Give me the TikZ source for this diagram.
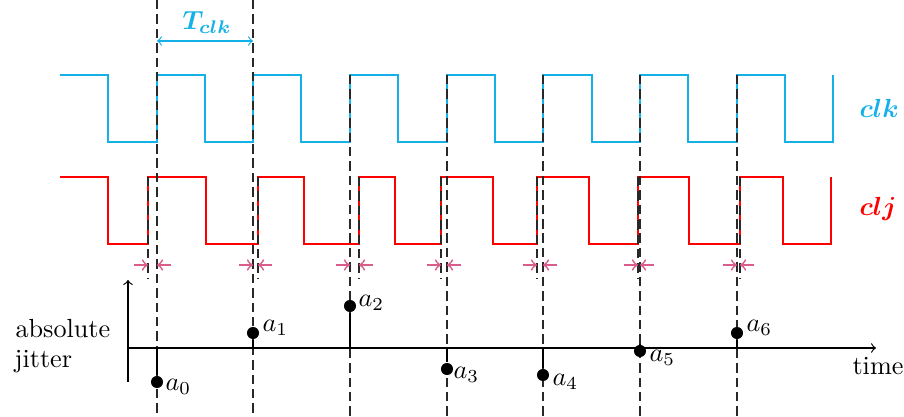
\documentclass[tikz,border=0pt]{standalone}
\usepackage{amsmath,bm}
\definecolor{clkblue}{RGB}{20,176,232}
\definecolor{jitpink}{RGB}{218,92,138}
\definecolor{guidegray}{RGB}{40,40,40}
\tikzset{
  sig/.style={line width=0.8pt, line join=miter},
  clksig/.style={sig, draw=clkblue},
  cljsig/.style={sig, draw=red},
  guide/.style={dash pattern=on 3.6pt off 1.9pt, line width=0.4pt, draw=guidegray},
  jit/.style={->, draw=jitpink, line width=0.65pt},
  dotpt/.style={circle, fill=black, inner sep=0pt, minimum size=4.6pt},
  lab/.style={inner sep=0pt},
  axisline/.style={line width=0.45pt},
}
\begin{document}
\begin{tikzpicture}[x=0.3817pt,y=-0.3817pt]
\useasboundingbox (0,0) rectangle (904,417);
% clock
\draw[clksig] (60,75) -- (108,75) -- (108,142) -- (157,142) -- (157,75)
  -- (205,75) -- (205,142) -- (253,142) -- (253,75)
  -- (301,75) -- (301,142) -- (350,142) -- (350,75)
  -- (398,75) -- (398,142) -- (447,142) -- (447,75)
  -- (495,75) -- (495,142) -- (543,142) -- (543,75)
  -- (592,75) -- (592,142) -- (640,142) -- (640,75)
  -- (688,75) -- (688,142) -- (737,142) -- (737,75)
  -- (785,75) -- (785,142) -- (833,142) -- (833,75);
% jittered clock
\draw[cljsig] (60,177) -- (108,177) -- (108,244) -- (148,244) -- (148,177)
  -- (206,177) -- (206,244) -- (258,244) -- (258,177)
  -- (304,177) -- (304,244) -- (359,244) -- (359,177)
  -- (395,177) -- (395,244) -- (441,244) -- (441,177)
  -- (493,177) -- (493,244) -- (537,244) -- (537,177)
  -- (589,177) -- (589,244) -- (638,244) -- (638,177)
  -- (689,177) -- (689,244) -- (740,244) -- (740,177)
  -- (783,177) -- (783,244) -- (831,244) -- (831,177);
% labels of signals
\node[lab, anchor=base west, text=clkblue] (clklab) at (859,118) {$\boldsymbol{clk}$};
\node[lab, anchor=base west, text=red] (cljlab) at (859,216) {$\boldsymbol{clj}$};
\node[lab, anchor=base west, text=clkblue] (tclk) at (182,30) {$\boldsymbol{T_{clk}}$};
% clock guides
\coordinate (g0t) at (157,0);   \coordinate (g0b) at (157,417);
\coordinate (g1t) at (253,0);   \coordinate (g1b) at (253,417);
\coordinate (g2t) at (350,75);  \coordinate (g2b) at (350,417);
\coordinate (g3t) at (447,75);  \coordinate (g3b) at (447,417);
\coordinate (g4t) at (543,75);  \coordinate (g4b) at (543,417);
\coordinate (g5t) at (640,75);  \coordinate (g5b) at (640,417);
\coordinate (g6t) at (737,75);  \coordinate (g6b) at (737,417);
\foreach \i in {0,...,6} \draw[guide] (g\i t) -- (g\i b);
% jitter guides
\coordinate (j0t) at (148,177); \coordinate (j0b) at (148,279);
\coordinate (j1t) at (258,177); \coordinate (j1b) at (258,279);
\coordinate (j2t) at (359,177); \coordinate (j2b) at (359,279);
\coordinate (j3t) at (441,177); \coordinate (j3b) at (441,279);
\coordinate (j4t) at (537,177); \coordinate (j4b) at (537,279);
\coordinate (j5t) at (638,177); \coordinate (j5b) at (638,279);
\coordinate (j6t) at (740,177); \coordinate (j6b) at (740,279);
\foreach \i in {0,...,6} \draw[guide] (j\i t) -- (j\i b);
% period arrow
\coordinate (pa) at (157,41); \coordinate (pb) at (253,41);
\draw[<->, draw=clkblue, line width=0.45pt] (pa) -- (pb);
% jitter arrows
\foreach \lo/\hi [count=\k] in {148/157,253/258,350/359,441/447,537/543,638/640,737/740}{
  \coordinate (la\k) at (\lo-14,265); \coordinate (lb\k) at (\lo,265);
  \coordinate (ra\k) at (\hi+14,265); \coordinate (rb\k) at (\hi,265);
  \draw[jit] (la\k) -- (lb\k);
  \draw[jit] (ra\k) -- (rb\k);
}
% axes
\coordinate (o) at (128,348); \coordinate (xend) at (876,348);
\coordinate (ybot) at (128,382); \coordinate (ytop) at (128,280);
\draw[axisline,->] (o) -- (xend);
\draw[axisline,->] (ybot) -- (ytop);
\node[lab, anchor=base west] (timelab) at (852,375) {time};
\node[lab, anchor=base west] (abslab) at (15,338) {absolute};
\node[lab, anchor=base west] (jitlab) at (14,368) {jitter};
% stems and dots
\foreach \x/\y/\lx/\ly [count=\k from 0] in {157/382/165/387, 253/333/262/328, 350/306/358/303, 447/369/453/375, 543/375/552/382, 640/351/649/358, 737/333/746/328}{
  \node[dotpt] (a\k) at (\x,\y) {};
  \coordinate (s\k) at (\x,348);
  \draw[axisline] (s\k) -- (a\k);
  \node[lab, anchor=west] (al\k) at (\lx,\ly) {$a_\k$};
}
\end{tikzpicture}
\end{document}
